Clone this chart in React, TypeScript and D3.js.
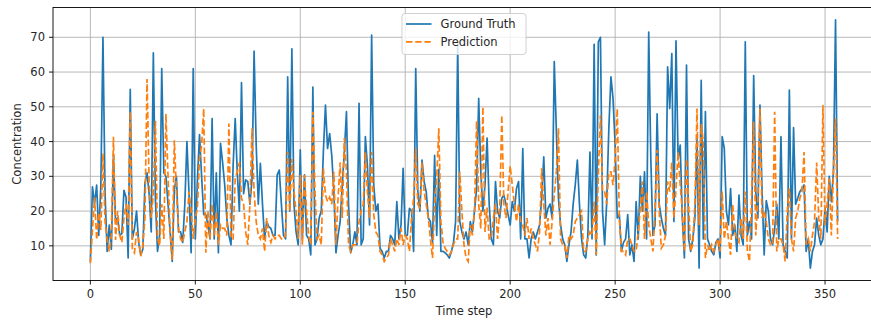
import React, { useEffect, useRef } from 'react'
import * as d3 from 'd3'

// values, one per time step (0..356)
const groundTruth = [
  5.5, 27, 22, 27.5, 13, 27.5, 70, 25, 8.4, 16, 9, 36, 17, 18, 13, 13.5, 26, 24, 6.5, 55,
  12, 15, 20, 11, 7.4, 9, 28, 31, 25, 14, 65.5, 23, 8.4, 13, 61, 31, 30, 22, 14, 5.5,
  26, 30, 14, 14, 11, 22, 40, 25, 8, 61, 12, 29, 42, 30, 19, 19, 16, 12, 46.6, 12,
  31, 8, 39.5, 34, 27.5, 18, 13, 10.3, 33, 46.6, 31, 20, 57, 25, 29, 28.5, 22, 29, 66, 39,
  22, 33.7, 22, 12, 17, 15.5, 15, 13, 13, 30.4, 31.8, 22, 13, 12, 58.6, 20, 66.7, 22, 14, 10.3,
  37.6, 12, 30.4, 13, 12, 7.4, 55.7, 10.3, 12, 18, 20, 37, 50.5, 38, 42.3, 36, 25.6, 8, 13, 17,
  27.5, 37, 48.6, 22, 8, 10.3, 14, 10.3, 51, 10.3, 12, 41.4, 33, 16, 70.6, 27.5, 20, 22, 9.3, 8.4,
  6.5, 8.4, 8.4, 13, 12, 10.3, 22.7, 12, 16, 32.3, 13, 13, 20.8, 20, 8.4, 61, 25.6, 20, 34.7, 28.5,
  25.6, 18, 17, 11, 36, 13, 32, 8.4, 8.4, 8, 7.4, 6.5, 8.4, 11, 17, 68, 17, 14, 12, 14,
  10.3, 17, 14, 20, 26.5, 52.4, 31.3, 20, 27.5, 41, 22, 12, 10.3, 28.5, 20, 18, 23.7, 24.6, 22, 19,
  16, 22.7, 20, 26.5, 28.5, 12, 38, 12, 12, 6.5, 12, 14, 12, 14, 16, 23.7, 35.6, 18, 20.8, 22,
  18, 63, 43, 23.7, 16, 12, 10.3, 5.5, 10.3, 14, 22, 27.5, 34.7, 22, 12, 7.4, 6.5, 13, 37, 12,
  68, 7.4, 68.7, 70, 20, 10.3, 22.7, 43.8, 58.6, 52.4, 39, 18, 19, 8.4, 11, 12, 19, 7.4, 10.3, 5.5,
  22.7, 12, 30, 20, 31.3, 12, 71.5, 35, 13, 16, 48, 22, 18, 15, 13, 61.5, 49.5, 65.3, 17, 69,
  35, 39, 18, 6.5, 62, 12, 8.4, 12, 18, 41, 3.6, 57.6, 12, 48.6, 12, 10.3, 8.4, 7.4, 11, 12,
  6.5, 41.4, 38, 20, 16, 26.5, 13, 16, 8.4, 24.6, 13, 10.3, 68.7, 13, 17, 12, 59, 25.6, 18, 50.5,
  25.6, 7.4, 23, 20, 12, 10.3, 15, 22, 12, 41.4, 10.3, 8.4, 6.5, 54.8, 12, 44, 22, 23.7, 25.6, 26.5,
  27.5, 8.4, 12, 3.6, 8.4, 10.3, 18, 13, 10.3, 12, 20.8, 14, 30, 22.7, 31.3, 75, 17,
]

const prediction = [
  5, 14.6, 24, 11.7, 19.5, 14.6, 36.6, 17, 11.7, 8.4, 13, 41.4, 11.7, 20, 13, 11, 18, 22, 16, 48.6,
  9, 8, 14, 12, 7, 10, 18, 58, 28, 18, 25, 46, 12, 10, 22, 12, 48, 30, 14, 6,
  40.4, 25.6, 15, 12, 11, 14, 17, 25.6, 20, 12, 18, 21, 35, 39, 49.5, 8, 20, 12, 22, 13,
  20, 10.3, 16, 15, 15, 13, 45.2, 12, 12, 29.4, 31.3, 34, 23.7, 22, 14, 10.3, 22, 43.8, 25.6, 17,
  13, 12, 15, 8.4, 18, 13, 11, 13, 12, 13, 13, 12, 12, 13, 37, 20, 35, 25.6, 20, 12,
  30.4, 10.3, 30.4, 20, 13, 10.3, 48.6, 25.6, 12, 13, 10.3, 32.3, 24.6, 22.7, 24, 22, 31.3, 10.3, 23.7, 34,
  18, 41, 31.3, 10.3, 8.4, 10.3, 10.3, 10.3, 17, 20, 22, 37, 25.6, 18, 37, 19, 14, 13, 8.4, 7.4,
  5.5, 6.5, 7.4, 12, 10.3, 8.4, 12, 10.3, 15, 10.3, 13, 12, 8.4, 18, 23.7, 38, 22, 21, 34, 25.6,
  22, 18, 12, 6.5, 22, 29.4, 43.8, 17, 11, 9.3, 8.4, 7.4, 8.4, 10.3, 12, 12, 31.3, 20, 10.3, 6.5,
  5.5, 16, 13, 20, 46, 22, 15, 50, 14, 21, 12, 12, 18, 22, 12, 20, 47.6, 22, 18, 25.6,
  33, 27.5, 22, 17, 22, 17, 16, 13, 18, 12, 15, 12, 10.3, 8.4, 14, 32.3, 22, 13, 18, 10.3,
  17, 24.6, 31.3, 43.8, 12, 10.3, 10.3, 6.5, 13, 12, 13, 17, 18, 19, 20, 8.4, 8.4, 12, 14, 13,
  22.7, 7.4, 31.3, 47.6, 25.6, 25.6, 22, 31.3, 31.3, 27.5, 35, 49.5, 18, 8.4, 8.4, 7.4, 12, 12, 10.3, 8.4,
  8.4, 14, 20.8, 28.5, 12, 25.6, 16, 12, 8.4, 20, 37.6, 20, 9.3, 10.3, 13, 28.5, 25.6, 34, 18, 26.5,
  37, 27.5, 20, 8.4, 35, 22, 8.4, 10.3, 22, 49.5, 16, 45, 40, 6.5, 10.3, 8.4, 10.3, 8.4, 10.3, 12,
  8.4, 25.6, 12, 17, 12, 7.4, 22, 14, 12, 11, 18, 12, 25.6, 8.4, 5.5, 23.7, 45.7, 13, 23.7, 49.5,
  18, 20, 17, 12, 10.3, 10.3, 48.6, 8.4, 12, 12, 10.3, 5.5, 20, 26.5, 12, 8.4, 18, 20, 23.7, 25.6,
  37, 10.3, 12, 8.4, 13, 17, 34, 18, 12, 50.5, 16, 22, 29.4, 13, 31.3, 46.6, 12,
]

const xTicks = [0, 50, 100, 150, 200, 250, 300, 350]
const yTicks = [10, 20, 30, 40, 50, 60, 70]
const seriesNames = ['Ground Truth', 'Prediction']
const seriesColors = ['#1f77b4', '#ff7f0e']

const width = 871
const height = 321
const margin = { left: 53, top: 7.5, right: 875, bottom: 280.5 }
const font = '"DejaVu Sans", sans-serif'
const fs = 11.5

function App() {
  const svgRef = useRef<SVGSVGElement>(null)

  useEffect(() => {
    const svg = d3.select(svgRef.current)
    svg.selectAll('*').remove()

    const n = groundTruth.length
    const last = n - 1
    const x = d3.scaleLinear()
      .domain([-0.05 * last, 1.05 * last])
      .range([margin.left, margin.right])

    const all = groundTruth.concat(prediction)
    const lo = d3.min(all) as number
    const hi = d3.max(all) as number
    const pad = (hi - lo) * 0.05
    const y = d3.scaleLinear()
      .domain([lo - pad, hi + pad])
      .range([margin.bottom, margin.top])

    const clipId = 'plot-clip'
    svg.append('defs').append('clipPath').attr('id', clipId)
      .append('rect')
      .attr('x', margin.left).attr('y', margin.top)
      .attr('width', margin.right - margin.left)
      .attr('height', margin.bottom - margin.top)

    // grid
    const grid = svg.append('g')
    grid.selectAll('line.vx')
      .data(xTicks)
      .enter().append('line')
      .attr('x1', d => x(d)).attr('x2', d => x(d))
      .attr('y1', margin.top).attr('y2', margin.bottom)
      .attr('stroke', '#b0b0b0').attr('stroke-width', 0.9)
    grid.selectAll('line.hy')
      .data(yTicks)
      .enter().append('line')
      .attr('x1', margin.left).attr('x2', margin.right)
      .attr('y1', d => y(d)).attr('y2', d => y(d))
      .attr('stroke', '#b0b0b0').attr('stroke-width', 0.9)

    // series
    const line = d3.line<number>()
      .x((_, i) => x(i))
      .y(d => y(d))

    const plot = svg.append('g').attr('clip-path', `url(#${clipId})`)
    plot.append('path')
      .attr('d', line(groundTruth))
      .attr('fill', 'none')
      .attr('stroke', seriesColors[0])
      .attr('stroke-width', 1.7)
      .attr('stroke-linejoin', 'round')
    plot.append('path')
      .attr('d', line(prediction))
      .attr('fill', 'none')
      .attr('stroke', seriesColors[1])
      .attr('stroke-width', 1.7)
      .attr('stroke-dasharray', '6.4,2.8')

    // frame
    svg.append('rect')
      .attr('x', margin.left).attr('y', margin.top)
      .attr('width', margin.right - margin.left)
      .attr('height', margin.bottom - margin.top)
      .attr('fill', 'none')
      .attr('stroke', '#000')
      .attr('stroke-width', 0.9)

    // x ticks
    const xt = svg.append('g')
    xTicks.forEach(t => {
      xt.append('line')
        .attr('x1', x(t)).attr('x2', x(t))
        .attr('y1', margin.bottom).attr('y2', margin.bottom + 4)
        .attr('stroke', '#000').attr('stroke-width', 0.9)
      xt.append('text')
        .attr('x', x(t)).attr('y', margin.bottom + 17.5)
        .attr('text-anchor', 'middle')
        .style('font-family', font).style('font-size', `${fs}px`)
        .attr('fill', '#262626')
        .text(t)
    })

    // y ticks
    const yt = svg.append('g')
    yTicks.forEach(t => {
      yt.append('line')
        .attr('x1', margin.left - 4).attr('x2', margin.left)
        .attr('y1', y(t)).attr('y2', y(t))
        .attr('stroke', '#000').attr('stroke-width', 0.9)
      yt.append('text')
        .attr('x', margin.left - 8).attr('y', y(t))
        .attr('dy', '0.36em')
        .attr('text-anchor', 'end')
        .style('font-family', font).style('font-size', `${fs}px`)
        .attr('fill', '#262626')
        .text(t)
    })

    // axis labels
    svg.append('text')
      .attr('x', (margin.left + margin.right) / 2).attr('y', 315)
      .attr('text-anchor', 'middle')
      .style('font-family', font).style('font-size', `${fs}px`)
      .attr('fill', '#262626')
      .text('Time step')
    svg.append('text')
      .attr('transform', `translate(21,${(margin.top + margin.bottom) / 2}) rotate(-90)`)
      .attr('text-anchor', 'middle')
      .style('font-family', font).style('font-size', `${fs}px`)
      .attr('fill', '#262626')
      .text('Concentration')

    // legend (upper center)
    const cx = (margin.left + margin.right) / 2
    const lg = svg.append('g')
    lg.append('rect')
      .attr('x', cx - 62).attr('y', 13.5)
      .attr('width', 124).attr('height', 41)
      .attr('rx', 3)
      .attr('fill', 'rgba(255,255,255,0.8)')
      .attr('stroke', '#cccccc').attr('stroke-width', 0.9)
    seriesNames.forEach((name, i) => {
      const ly = 24 + i * 17.8
      lg.append('line')
        .attr('x1', cx - 58).attr('x2', cx - 32.5)
        .attr('y1', ly).attr('y2', ly)
        .attr('stroke', seriesColors[i])
        .attr('stroke-width', 1.7)
        .attr('stroke-dasharray', i === 1 ? '6.4,2.8' : null)
      lg.append('text')
        .attr('x', cx - 23.5).attr('y', ly)
        .attr('dy', '0.36em')
        .style('font-family', font).style('font-size', `${fs}px`)
        .attr('fill', '#262626')
        .text(name)
    })
  }, [])

  return (
    <svg
      ref={svgRef}
      width={width}
      height={height}
      style={{ position: 'absolute', left: 0, top: 0, background: '#fff' }}
    />
  )
}

export default App
